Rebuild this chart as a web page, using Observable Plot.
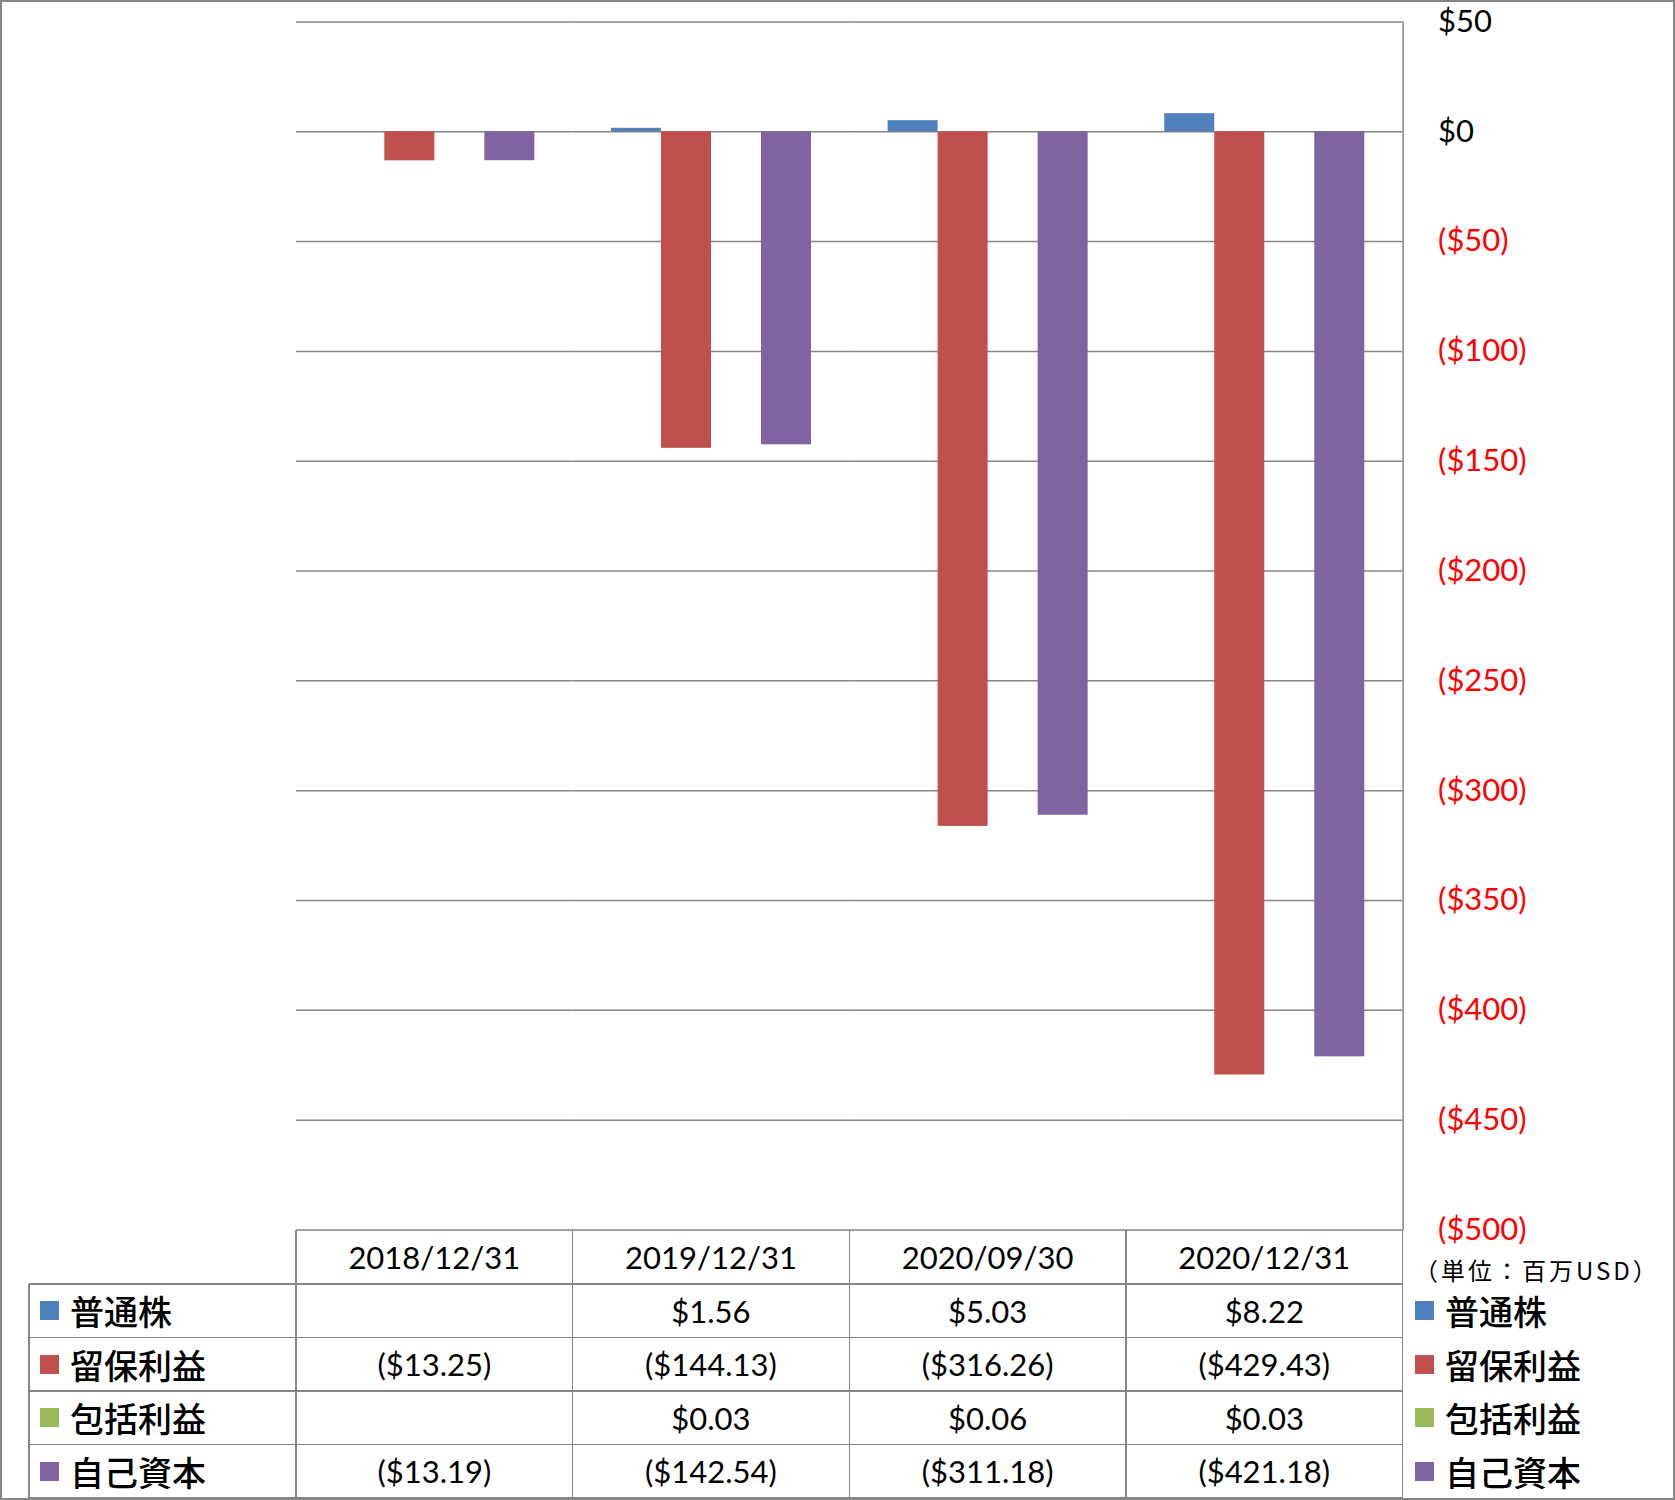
<!DOCTYPE html>
<html><head><meta charset="utf-8">
<script src="https://cdn.jsdelivr.net/npm/d3@7"></script>
<script src="https://cdn.jsdelivr.net/npm/@observablehq/plot@0.6"></script>
<style>
html,body{margin:0;padding:0;background:#fff;}
#root{position:relative;width:1675px;height:1500px;overflow:hidden;background:#fff;}
.abs{position:absolute;}
.hl{position:absolute;height:1.5px;background:#868686;}
.vl{position:absolute;width:1.5px;background:#868686;}
.cell{position:absolute;display:flex;align-items:center;justify-content:center;font-family:Lato,"Open Sans",sans-serif;font-size:31px;color:#000;white-space:nowrap;}
.lab{position:absolute;display:flex;align-items:center;font-family:"Noto Sans CJK JP",sans-serif;font-size:34px;font-weight:500;color:#000;white-space:nowrap;}
.sw{display:inline-block;width:19px;height:19px;margin-right:11px;flex:none;}
.unit{position:absolute;display:flex;align-items:center;font-family:"Noto Sans CJK JP",sans-serif;font-size:24px;letter-spacing:3px;color:#000;white-space:nowrap;}
</style></head><body>
<div id="root">
 <div id="chart" class="abs" style="left:0;top:0"></div>
 <div id="table"></div>
 <div class="abs" style="left:0;top:0;width:1675px;height:1500px;box-sizing:border-box;border:2px solid #868686;"></div>
</div>
<script>
// ---- data ----
const dates = ["2018/12/31", "2019/12/31", "2020/09/30", "2020/12/31"];
const seriesNames = ["普通株", "留保利益", "包括利益", "自己資本"];
const seriesColors = ["#4F81BD", "#C0504D", "#9BBB59", "#8064A2"];
const commonStock = [null, 1.56, 5.03, 8.22];
const retainedEarnings = [-13.25, -144.13, -316.26, -429.43];
const comprehensiveIncome = [null, 0.03, 0.06, 0.03];
const equity = [-13.19, -142.54, -311.18, -421.18];
const yTicks = [50, 0, -50, -100, -150, -200, -250, -300, -350, -400, -450, -500];
const unitLabel = "（単位：百万USD）";

const seriesValues = [commonStock, retainedEarnings, comprehensiveIncome, equity];

// ---- layout ----
const W = 1675, H = 1500;
const plotL = 296, plotR = 1402.6, plotT = 21.4, plotB = 1229.5;
const svgH = 1262;
const colW = (plotR - plotL) / dates.length;
const tableL = 28.8;
const rowEdges = [1229.5, 1284, 1337.5, 1391, 1444.5, 1498];

const rows = [];
dates.forEach((d, i) => seriesNames.forEach((s, j) => {
  const v = seriesValues[j][i];
  if (v != null) rows.push({date: d, series: s, value: v});
}));

const fmtTick = t => t < 0 ? `($${-t})` : `$${t}`;
const fmtVal = v => v == null ? "" : (v < 0 ? `($${(-v).toFixed(2)})` : `$${v.toFixed(2)}`);

const plot = Plot.plot({
  width: W, height: svgH,
  marginLeft: plotL, marginRight: W - plotR, marginTop: plotT, marginBottom: svgH - plotB,
  style: {fontFamily: "Lato, 'Open Sans', sans-serif", fontSize: "31px", background: "transparent", overflow: "visible"},
  fx: {domain: dates, padding: 0, round: false, axis: null},
  x: {domain: seriesNames, paddingInner: 0, paddingOuter: 0.766, round: false, axis: null},
  y: {domain: [-500, 50], label: null},
  color: {domain: seriesNames, range: seriesColors},
  marks: [
    Plot.gridY(yTicks, {stroke: "#868686", strokeOpacity: 1, strokeWidth: 1.5}),
    Plot.frame({anchor: "right", facetAnchor: "right", stroke: "#868686", strokeWidth: 1.5}),
    Plot.barY(rows, {fx: "date", x: "series", y: "value", fill: "series"}),
    Plot.axisY(yTicks.filter(t => t >= 0), {anchor: "right", tickSize: 0, tickPadding: 35, tickFormat: fmtTick, fill: "#000000", fontSize: 31, label: null}),
    Plot.axisY(yTicks.filter(t => t < 0), {anchor: "right", tickSize: 0, tickPadding: 35, tickFormat: fmtTick, fill: "#ff0000", fontSize: 31, label: null})
  ]
});
document.getElementById("chart").appendChild(plot);

// ---- table ----
const tbl = document.getElementById("table");
function el(cls, css, html) {
  const d = document.createElement("div");
  d.className = cls;
  Object.assign(d.style, css);
  if (html != null) d.innerHTML = html;
  tbl.appendChild(d);
  return d;
}
// header
dates.forEach((d, i) => {
  el("cell", {left: (plotL + i * colW) + "px", top: rowEdges[0] + "px", width: colW + "px", height: (rowEdges[1] - rowEdges[0]) + "px"}).textContent = d;
});
// rows
seriesNames.forEach((s, j) => {
  const top = rowEdges[j + 1], h = rowEdges[j + 2] - rowEdges[j + 1];
  const lab = el("lab", {left: "40px", top: top + "px", height: h + "px"});
  lab.innerHTML = `<span class="sw" style="background:${seriesColors[j]}"></span>`;
  lab.appendChild(document.createTextNode(s));
  dates.forEach((d, i) => {
    el("cell", {left: (plotL + i * colW) + "px", top: top + "px", width: colW + "px", height: h + "px"}).textContent = fmtVal(seriesValues[j][i]);
  });
  const rl = el("lab", {left: "1415px", top: top + "px", height: h + "px"});
  rl.innerHTML = `<span class="sw" style="background:${seriesColors[j]}"></span>`;
  rl.appendChild(document.createTextNode(s));
});
// unit label
el("unit", {left: "1414px", top: "1255px", height: "28px"}).textContent = unitLabel;
// lines
for (let k = 1; k < rowEdges.length; k++) {
  el("hl", {left: tableL + "px", top: (rowEdges[k] - 0.75) + "px", width: (plotR - tableL) + "px"});
}
el("vl", {left: (tableL - 0.75) + "px", top: rowEdges[1] + "px", height: (rowEdges[5] - rowEdges[1]) + "px"});
for (let k = 0; k <= dates.length; k++) {
  el("vl", {left: (plotL + k * colW - 0.75) + "px", top: rowEdges[0] + "px", height: (rowEdges[5] - rowEdges[0]) + "px"});
}
</script>
</body></html>
